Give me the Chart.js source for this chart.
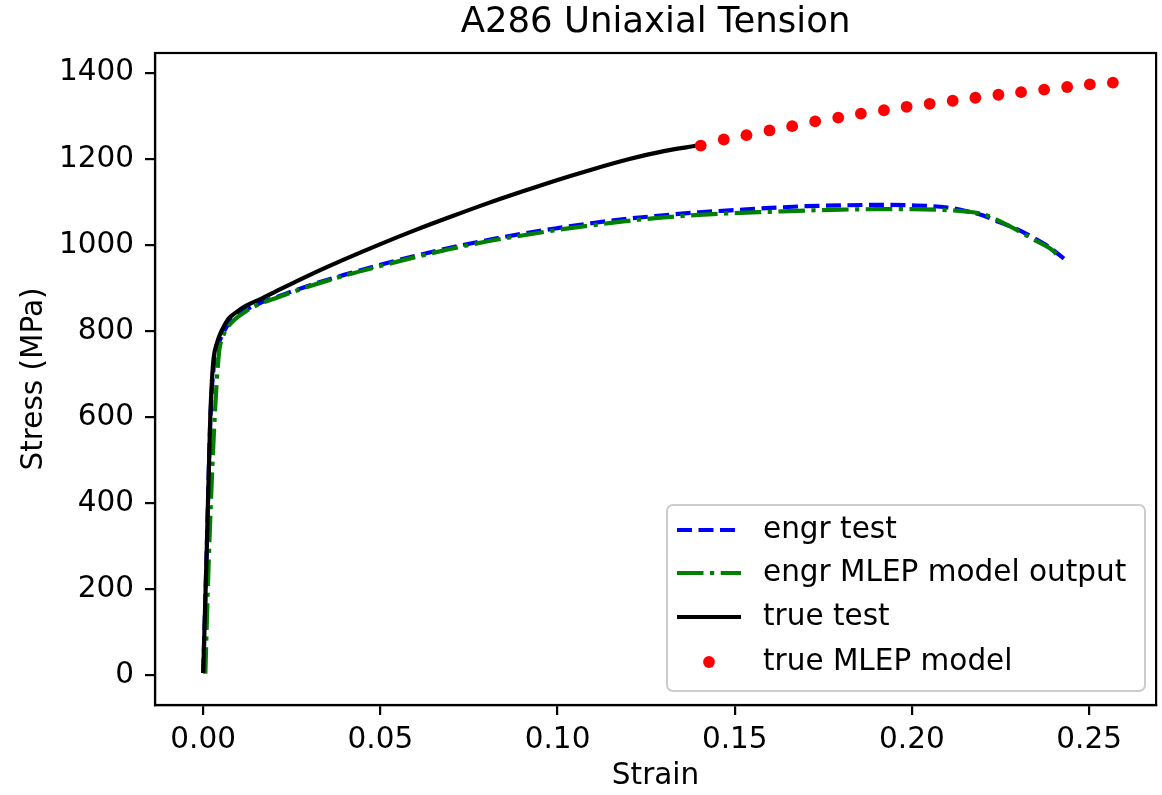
<!DOCTYPE html>
<html>
<head>
<meta charset="utf-8">
<script src="https://cdn.jsdelivr.net/npm/chart.js@4.4.1/dist/chart.umd.min.js"></script>
<style>
  html, body { margin: 0; padding: 0; background: #fff; }
  #wrap { width: 1162px; height: 795px; }
</style>
</head>
<body>
<div id="wrap"><canvas id="cv" width="1162" height="795"></canvas></div>
<script>
  // stress-strain readings (strain [-], stress [MPa])
  const engrTestStrain = [0, 0.001, 0.002, 0.003, 0.004, 0.0049, 0.0072, 0.0119, 0.0166, 0.02, 0.03, 0.04, 0.05, 0.06, 0.07, 0.08, 0.09, 0.10, 0.11, 0.12, 0.13, 0.14, 0.15, 0.16, 0.17, 0.18, 0.19, 0.20, 0.21, 0.2152, 0.2199, 0.2246, 0.2293, 0.234, 0.2387, 0.2429];
  const engrTestStress = [5, 290, 590, 720, 762, 782, 817, 848, 867, 877, 906, 931, 954, 975, 994, 1011, 1026, 1039, 1051, 1061, 1069, 1076, 1081, 1086, 1090, 1092, 1093, 1092, 1087, 1079, 1069, 1053, 1038, 1018, 995, 968];

  const engrModelStrain = [0.0006, 0.0015, 0.003, 0.0044, 0.0055, 0.0072, 0.0119, 0.0166, 0.02, 0.03, 0.04, 0.05, 0.06, 0.07, 0.08, 0.09, 0.10, 0.11, 0.12, 0.13, 0.14, 0.15, 0.16, 0.17, 0.18, 0.19, 0.20, 0.21, 0.215, 0.2199, 0.2246, 0.2293, 0.234, 0.2396, 0.241];
  const engrModelStress = [4, 250, 560, 745, 785, 812, 845, 865, 875, 904, 929, 951, 972, 991, 1008, 1022, 1035, 1046, 1056, 1064, 1070, 1074, 1077, 1080, 1082, 1083, 1083, 1081, 1078, 1072, 1056, 1036, 1014, 988, 977];

  const trueTestStrain = [0, 0.001, 0.002, 0.0025, 0.003, 0.004, 0.0049, 0.0072, 0.0091, 0.0119, 0.0166, 0.02, 0.03, 0.04, 0.05, 0.06, 0.07, 0.08, 0.09, 0.10, 0.11, 0.12, 0.13, 0.1395];
  const trueTestStress = [5, 290, 600, 690, 740, 775, 795, 829, 842, 858, 876, 890, 930, 967, 1002, 1035, 1066, 1096, 1124, 1151, 1176, 1199, 1218, 1231];

  const trueModelStrain = [0.1404, 0.1469, 0.1533, 0.1598, 0.1662, 0.1727, 0.1792, 0.1856, 0.1921, 0.1985, 0.205, 0.2115, 0.2179, 0.2244, 0.2308, 0.2373, 0.2438, 0.2502, 0.2567];
  const trueModelStress = [1231, 1245, 1255, 1266, 1276, 1287, 1296, 1305, 1313, 1321, 1328, 1335, 1342, 1349, 1355, 1361, 1367, 1373, 1377];

  const xTicks = [0, 0.05, 0.10, 0.15, 0.20, 0.25];
  const yTicks = [0, 200, 400, 600, 800, 1000, 1200, 1400];

  const FONT = 'DejaVu Sans';
  const FS = 29.5;
  const TITLE = 'A286 Uniaxial Tension';
  const pts = (xs, ys) => xs.map((x, i) => ({ x, y: ys[i] }));

  const series = [
    { label: 'engr test', data: pts(engrTestStrain, engrTestStress), color: '#0000ff', dash: [15, 6.5], width: 4.2, order: 4 },
    { label: 'engr MLEP model output', data: pts(engrModelStrain, engrModelStress), color: '#008000', dash: [26.5, 6.5, 4.2, 6.5], width: 4.2, order: 3 },
    { label: 'true test', data: pts(trueTestStrain, trueTestStress), color: '#000000', dash: [], width: 4.2, order: 2 },
    { label: 'true MLEP model', data: pts(trueModelStrain, trueModelStress), color: '#ff0000', dash: null, width: 0, order: 1 },
  ];

  const datasets = series.map((s) => s.dash ? {
    label: s.label, data: s.data, showLine: true, borderColor: s.color, borderWidth: s.width,
    borderDash: s.dash, pointRadius: 0, cubicInterpolationMode: 'monotone', order: s.order, borderCapStyle: 'butt',
  } : {
    label: s.label, data: s.data, showLine: false, backgroundColor: s.color, borderWidth: 0,
    pointRadius: 5.9, pointHoverRadius: 5.9, order: s.order,
  });

  // matplotlib-like frame (all four spines) + title centred over the axes
  const framePlugin = {
    id: 'frame',
    afterDraw(chart) {
      const { ctx, chartArea: a } = chart;
      ctx.save();
      ctx.strokeStyle = '#000';
      ctx.lineWidth = 2.2;
      ctx.strokeRect(a.left, a.top, a.right - a.left, a.bottom - a.top);
      ctx.fillStyle = '#000';
      ctx.font = '35.5px "' + FONT + '"';
      ctx.textAlign = 'center';
      ctx.textBaseline = 'middle';
      ctx.fillText(TITLE, (a.left + a.right) / 2, 23);
      ctx.restore();
    },
  };

  // legend box in lower right, like plt.legend(loc='lower right')
  const legendPlugin = {
    id: 'mplLegend',
    afterDraw(chart) {
      const { ctx } = chart;
      const bx = 667, by = 505, bw = 478, bh = 186, r = 6;
      ctx.save();
      ctx.beginPath();
      ctx.roundRect(bx, by, bw, bh, r);
      ctx.fillStyle = 'rgba(255,255,255,0.8)';
      ctx.fill();
      ctx.strokeStyle = '#cccccc';
      ctx.lineWidth = 2;
      ctx.stroke();
      const rows = [530, 573, 617, 662];
      ctx.font = FS + 'px "' + FONT + '"';
      ctx.textBaseline = 'middle';
      ctx.textAlign = 'left';
      series.forEach((s, i) => {
        const y = rows[i];
        if (s.dash) {
          ctx.beginPath();
          ctx.setLineDash(s.dash);
          ctx.lineCap = 'butt';
          ctx.strokeStyle = s.color;
          ctx.lineWidth = s.width;
          ctx.moveTo(677, y);
          ctx.lineTo(741, y);
          ctx.stroke();
          ctx.setLineDash([]);
        } else {
          ctx.beginPath();
          ctx.fillStyle = s.color;
          ctx.arc(709, y, 5.9, 0, Math.PI * 2);
          ctx.fill();
        }
        ctx.fillStyle = '#000';
        ctx.fillText(s.label, 763, y);
      });
      ctx.restore();
    },
  };

  new Chart(document.getElementById('cv').getContext('2d'), {
    type: 'scatter',
    data: { datasets },
    options: {
      responsive: false,
      animation: false,
      events: [],
      layout: { padding: { top: 53, right: 5, left: 0, bottom: 0 } },
      plugins: {
        legend: { display: false },
        tooltip: { enabled: false },
        title: { display: false },
      },
      scales: {
        x: {
          type: 'linear', min: -0.0136, max: 0.2689,
          afterBuildTicks: (sc) => { sc.ticks = xTicks.map((v) => ({ value: v })); },
          afterFit: (sc) => { sc.height = 90; },
          ticks: { color: '#000', padding: 8, font: { family: FONT, size: FS }, maxRotation: 0, callback: (v) => Number(v).toFixed(2) },
          grid: { drawOnChartArea: false, color: '#000', lineWidth: 2.2, tickLength: 10 },
          border: { display: true, color: '#000', width: 2.2 },
          title: { display: true, text: 'Strain', color: '#000', font: { family: FONT, size: FS, lineHeight: 1.2 }, padding: { top: 0, bottom: 1 } },
        },
        y: {
          type: 'linear', min: -69, max: 1446,
          afterBuildTicks: (sc) => { sc.ticks = yTicks.map((v) => ({ value: v })); },
          afterFit: (sc) => { sc.width = 155; },
          ticks: { color: '#000', padding: 11, font: { family: FONT, size: FS }, callback: (v) => String(v) },
          grid: { drawOnChartArea: false, color: '#000', lineWidth: 2.2, tickLength: 10 },
          border: { display: true, color: '#000', width: 2.2 },
          title: { display: true, text: 'Stress (MPa)', color: '#000', font: { family: FONT, size: FS, lineHeight: 1.2 }, padding: { top: 17, bottom: 0 } },
        },
      },
    },
    plugins: [framePlugin, legendPlugin],
  });
</script>
</body>
</html>
